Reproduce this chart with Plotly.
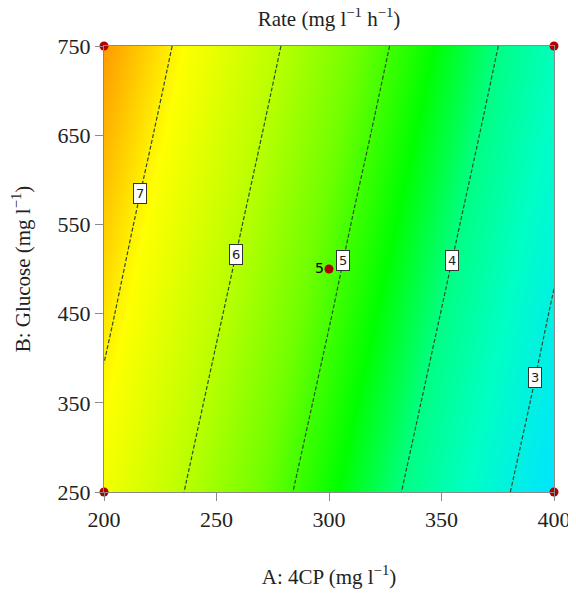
import numpy as np
import plotly.graph_objects as go

# Factor levels (grid)
a_levels = [200, 250, 300, 350, 400]          # A: 4CP (mg/l)
b_levels = [250, 350, 450, 550, 650, 750]     # B: Glucose (mg/l)
# Rate values (rows = B levels, cols = A levels)
rate = [
    [6.74, 5.70, 4.67, 3.63, 2.60],
    [6.92, 5.88, 4.85, 3.81, 2.78],
    [7.10, 6.06, 5.03, 3.99, 2.95],
    [7.27, 6.24, 5.20, 4.17, 3.13],
    [7.45, 6.42, 5.38, 4.35, 3.31],
    [7.63, 6.59, 5.56, 4.52, 3.49],
]
contour_levels = [3, 4, 5, 6, 7]
# B position where each contour label sits
label_b = [378, 510, 510, 516, 585]

# Design points
pt_a = [200, 200, 400, 400, 300]
pt_b = [250, 750, 250, 750, 500]
center_reps = "5"

x_ticks = [200, 250, 300, 350, 400]
y_ticks = [250, 350, 450, 550, 650, 750]

colorscale = [
    [0.000, "#00e4ff"],
    [0.160, "#00ffc4"],
    [0.277, "#00ff84"],
    [0.396, "#00ff00"],
    [0.535, "#70ff00"],
    [0.673, "#b8ff00"],
    [0.851, "#ffff00"],
    [1.000, "#ff9800"],
]

serif = "Liberation Serif"

fig = go.Figure()
fig.add_trace(go.Contour(
    x=a_levels, y=b_levels, z=rate,
    colorscale=colorscale, zmin=2.6, zmax=7.65,
    showscale=False,
    contours=dict(coloring="heatmap", start=3, end=7, size=1, showlabels=False),
    line=dict(color="#2a4f2a", width=1.2, dash="4px,2px"),
    hoverinfo="skip",
))

# contour labels: locate A on each label's B row by interpolation of the grid
Z = np.array(rate)
B = np.array(b_levels, dtype=float)
A = np.array(a_levels, dtype=float)
for lev, bb in zip(contour_levels, label_b):
    row = np.array([np.interp(bb, B, Z[:, j]) for j in range(len(A))])
    aa = np.interp(lev, row[::-1], A[::-1])
    fig.add_annotation(x=aa, y=bb, text=str(lev), showarrow=False,
                       bgcolor="white", bordercolor="#333333", borderwidth=1,
                       borderpad=2, font=dict(family="DejaVu Sans", size=13, color="#222"))

fig.add_trace(go.Scatter(
    x=pt_a, y=pt_b, mode="markers",
    marker=dict(color="#b00000", size=9), cliponaxis=False, hoverinfo="skip",
))
fig.add_annotation(x=pt_a[-1], y=pt_b[-1], text=center_reps, showarrow=False,
                   xanchor="right", xshift=-3, yshift=1,
                   font=dict(family="DejaVu Sans", size=14, color="black"))

axis_common = dict(
    showgrid=True, gridcolor="#b8b8b8", gridwidth=1,
    showline=True, linecolor="#8a8a8a", linewidth=1, mirror=True,
    ticks="outside", ticklen=8, tickcolor="#8a8a8a",
    tickfont=dict(family=serif, size=22, color="#222"),
    layer="above traces", zeroline=False, automargin=False,
)
fig.update_layout(
    width=568, height=585,
    margin=dict(l=96, r=22, t=38, b=101),
    paper_bgcolor="white", plot_bgcolor="white",
    showlegend=False,
    title=dict(text="Rate (mg l<sup>−1</sup> h<sup>−1</sup>)", x=0.5, xanchor="center",
               xref="paper", y=0.982, yanchor="middle",
               font=dict(family=serif, size=21, color="#222")),
    xaxis=dict(range=[200, 400], tickvals=x_ticks,
               title=dict(text="A: 4CP (mg l<sup>−1</sup>)", standoff=37,
                          font=dict(family=serif, size=21, color="#222")),
               **axis_common),
    yaxis=dict(range=[250, 750], tickvals=y_ticks,
               title=dict(text="B: Glucose (mg l<sup>−1</sup>)", standoff=24,
                          font=dict(family=serif, size=21, color="#222")),
               **axis_common),
)
fig.write_html("out.html")
